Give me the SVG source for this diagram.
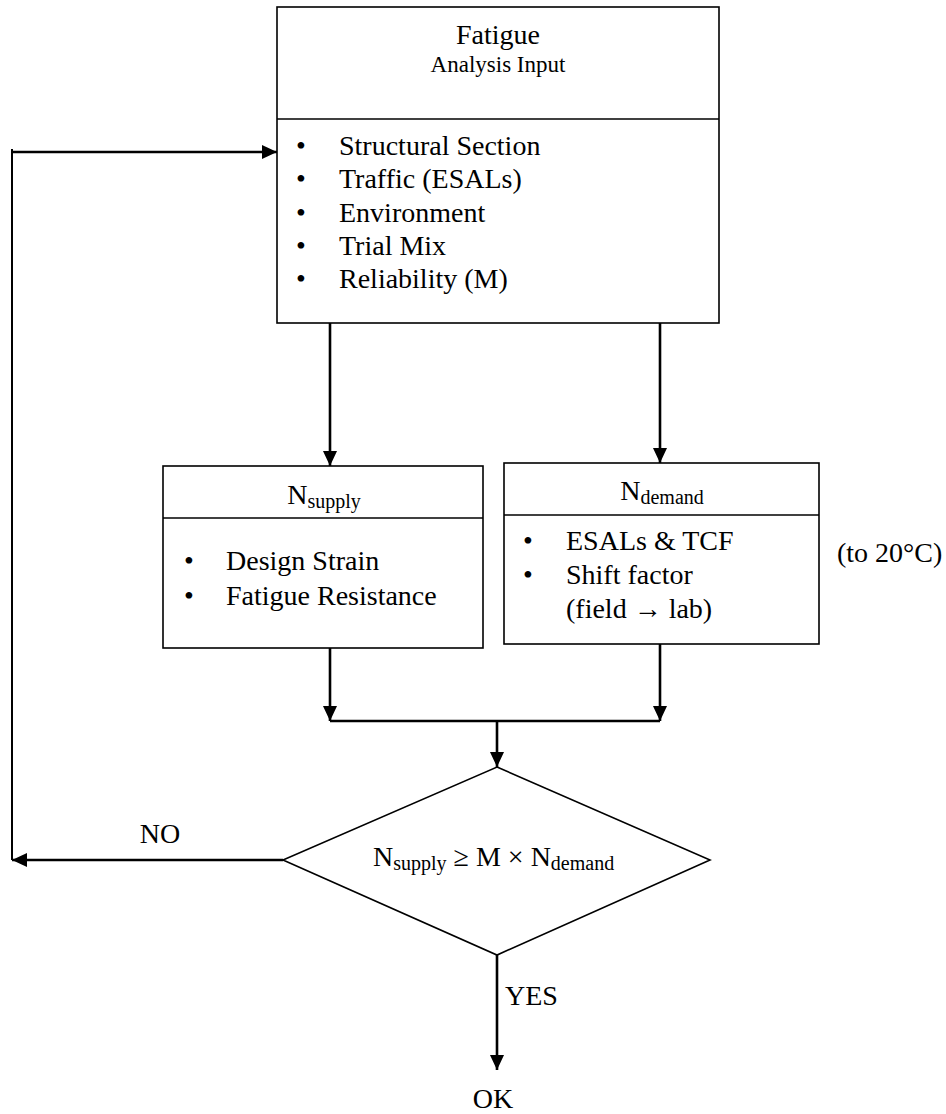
<svg xmlns="http://www.w3.org/2000/svg" width="946" height="1114" viewBox="0 0 946 1114">
<style>
  text { font-family: "Liberation Serif", "Times New Roman", serif; fill: #000; }
  .t { font-size: 28px; }
  .sub { font-size: 20px; }
  .mid { text-anchor: middle; }
  .box { fill: #fff; stroke: #000; stroke-width: 1.6; }
  .div { stroke: #000; stroke-width: 1.6; fill: none; }
  .conn { stroke: #000; stroke-width: 2.6; fill: none; }
  .loop { stroke: #000; stroke-width: 2; fill: none; }
</style>
<defs>
  <marker id="arr" markerUnits="userSpaceOnUse" markerWidth="16" markerHeight="15" refX="15" refY="7" orient="auto">
    <path d="M0,0 L15,7 L0,14 z" fill="#000"/>
  </marker>
</defs>

<g id="connectors">
  <line class="conn" x1="330" y1="323" x2="330" y2="466" marker-end="url(#arr)"/>
  <line class="conn" x1="660" y1="323" x2="660" y2="463" marker-end="url(#arr)"/>
  <line class="conn" x1="330" y1="648" x2="330" y2="721" marker-end="url(#arr)"/>
  <line class="conn" x1="660" y1="644" x2="660" y2="721" marker-end="url(#arr)"/>
  <line class="conn" x1="330" y1="721" x2="660" y2="721"/>
  <line class="conn" x1="497" y1="721" x2="497" y2="767" marker-end="url(#arr)"/>
  <line class="conn" x1="283" y1="860" x2="12" y2="860" marker-end="url(#arr)"/>
  <line class="loop" x1="12" y1="860" x2="12" y2="149"/>
  <line class="conn" x1="11" y1="152" x2="277" y2="152" marker-end="url(#arr)"/>
  <line class="conn" x1="497" y1="955" x2="497" y2="1070" marker-end="url(#arr)"/>
  <text class="t mid" x="160" y="843">NO</text>
  <text class="t" x="505" y="1005">YES</text>
  <text class="t mid" x="493" y="1108">OK</text>
</g>

<g id="input">
  <rect class="box" x="277" y="7" width="442" height="316"/>
  <line class="div" x1="277" y1="119" x2="719" y2="119"/>
  <text class="t mid" x="498" y="44">Fatigue</text>
  <text class="mid" x="498" y="72" font-size="23">Analysis Input</text>
  <text class="t mid" x="301" y="155">•</text>
  <text class="t" x="339" y="155">Structural Section</text>
  <text class="t mid" x="301" y="188">•</text>
  <text class="t" x="339" y="188">Traffic (ESALs)</text>
  <text class="t mid" x="301" y="222">•</text>
  <text class="t" x="339" y="222">Environment</text>
  <text class="t mid" x="301" y="255">•</text>
  <text class="t" x="339" y="255">Trial Mix</text>
  <text class="t mid" x="301" y="288">•</text>
  <text class="t" x="339" y="288">Reliability (M)</text>
</g>

<g id="supply">
  <rect class="box" x="163" y="466" width="320" height="182"/>
  <line class="div" x1="163" y1="518" x2="483" y2="518"/>
  <text class="t mid" x="324" y="504">N<tspan class="sub" dy="4">supply</tspan></text>
  <text class="t mid" x="189" y="570">•</text>
  <text class="t" x="226" y="570">Design Strain</text>
  <text class="t mid" x="189" y="605">•</text>
  <text class="t" x="226" y="605">Fatigue Resistance</text>
</g>

<g id="demand">
  <rect class="box" x="504" y="463" width="315" height="181"/>
  <line class="div" x1="504" y1="515" x2="819" y2="515"/>
  <text class="t mid" x="662" y="500">N<tspan class="sub" dy="4">demand</tspan></text>
  <text class="t mid" x="528" y="550">•</text>
  <text class="t" x="566" y="550">ESALs &amp; TCF</text>
  <text class="t mid" x="528" y="584">•</text>
  <text class="t" x="566" y="584">Shift factor</text>
  <text class="t" x="566" y="618">(field → lab)</text>
  <text class="t" x="837" y="562">(to 20°C)</text>
</g>

<g id="check">
  <polygon class="box" points="497,767 710,860 497,955 283,860"/>
  <text class="t" x="373" y="866">N<tspan class="sub" dy="4">supply</tspan><tspan dy="-4"> ≥ M × N</tspan><tspan class="sub" dy="4">demand</tspan></text>
</g>
</svg>
